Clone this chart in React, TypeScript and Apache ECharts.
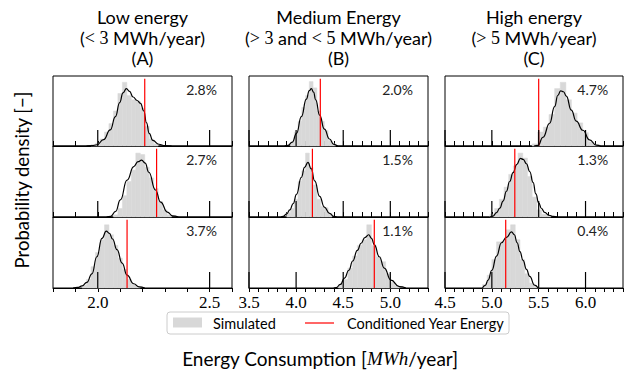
import React, { useEffect, useRef } from "react";
import * as echarts from "echarts";

// ---- data -------------------------------------------------------------

const X_MIN = [1.8, 3.5, 4.5];
const X_MAX = [2.6, 5.4, 6.4];
const Y_MAX = [10, 5, 4];
const MAJOR_TICKS_A = [2.0, 2.5];
const MAJOR_TICKS_B = [3.5, 4.0, 4.5, 5.0];
const MAJOR_TICKS_C = [4.5, 5.0, 5.5, 6.0];

// histogram: [first bin edge, bin width] and bin densities
const BINS_A1 = [1.97, 0.02];
const HIST_A1 = [0.2, 0.4, 1.0, 2.0, 3.2, 5.0, 7.5, 9.1, 7.2, 6.6, 6.4, 5.4, 2.8, 1.0, 0.3];
const BINS_A2 = [2.07, 0.02];
const HIST_A2 = [0.3, 1.2, 3.0, 5.0, 6.6, 9.0, 8.8, 7.0, 5.5, 4.0, 2.2, 1.0, 0.3];
const BINS_A3 = [1.93, 0.02];
const HIST_A3 = [0.4, 1.2, 3.0, 5.0, 6.8, 8.9, 7.5, 6.0, 4.2, 2.6, 1.2, 0.5, 0.2];
const BINS_B1 = [3.94, 0.04];
const HIST_B1 = [0.25, 1.0, 1.75, 2.75, 3.6, 4.6, 4.15, 2.5, 1.75, 1.1, 0.4, 0.15];
const BINS_B2 = [3.9, 0.04];
const HIST_B2 = [0.3, 0.6, 1.25, 2.5, 3.25, 4.5, 3.5, 2.25, 1.25, 0.75, 0.65, 0.25];
const BINS_B3 = [4.45, 0.05];
const HIST_B3 = [0.25, 0.6, 1.4, 2.25, 3.0, 3.4, 4.45, 3.0, 2.2, 1.85, 1.0, 0.4, 0.15];
const BINS_C1 = [5.43, 0.06];
const HIST_C1 = [0.12, 0.8, 1.08, 1.8, 3.28, 3.64, 2.64, 1.88, 1.32, 0.76, 0.24, 0.08];
const BINS_C2 = [4.98, 0.05];
const HIST_C2 = [0.16, 0.48, 1.0, 1.68, 2.4, 2.88, 3.6, 3.32, 2.28, 1.12, 0.4, 0.16, 0.08];
const BINS_C3 = [4.9, 0.05];
const HIST_C3 = [0.2, 0.72, 1.6, 2.6, 2.64, 3.28, 3.56, 2.72, 1.6, 0.8, 0.28, 0.08];

// kernel density estimates: [energy, density]
const KDE_A1 = [[1.95, 0], [1.975, 0.05], [1.996, 0.18], [2.026, 0.9], [2.056, 2.3], [2.079, 4.2], [2.098, 6.2], [2.113, 7.6], [2.128, 8.2], [2.142, 7.8], [2.158, 7.0], [2.176, 6.5], [2.191, 6.1], [2.206, 5.0], [2.218, 3.3], [2.23, 1.8], [2.246, 0.8], [2.273, 0.25], [2.3, 0.05], [2.33, 0]];
const KDE_A2 = [[2.04, 0], [2.058, 0.1], [2.08, 0.8], [2.101, 2.4], [2.131, 5.2], [2.161, 7.1], [2.18, 7.8], [2.196, 8.0], [2.212, 7.6], [2.228, 6.3], [2.258, 3.8], [2.281, 2.1], [2.311, 0.7], [2.335, 0.15], [2.36, 0]];
const KDE_A3 = [[1.89, 0], [1.91, 0.08], [1.93, 0.3], [1.951, 0.8], [1.974, 2.0], [1.996, 4.4], [2.019, 7.0], [2.038, 8.0], [2.052, 7.7], [2.066, 6.9], [2.086, 5.4], [2.109, 3.5], [2.131, 1.8], [2.161, 0.6], [2.185, 0.15], [2.21, 0]];
const KDE_B1 = [[3.88, 0], [3.915, 0.05], [3.96, 0.28], [4.004, 0.9], [4.056, 2.1], [4.109, 3.35], [4.14, 3.95], [4.162, 4.1], [4.185, 3.85], [4.208, 3.3], [4.25, 2.2], [4.3, 1.2], [4.355, 0.5], [4.4, 0.12], [4.44, 0]];
const KDE_B2 = [[3.84, 0], [3.862, 0.04], [3.9, 0.22], [3.933, 0.5], [3.97, 0.95], [4.004, 1.6], [4.056, 2.8], [4.09, 3.5], [4.126, 3.85], [4.16, 3.4], [4.197, 2.55], [4.25, 1.45], [4.3, 0.7], [4.355, 0.25], [4.4, 0.05], [4.43, 0]];
const KDE_B3 = [[4.4, 0], [4.426, 0.03], [4.47, 0.25], [4.514, 0.7], [4.56, 1.25], [4.601, 1.9], [4.65, 2.65], [4.69, 3.15], [4.73, 3.55], [4.771, 3.75], [4.8, 3.5], [4.83, 3.05], [4.883, 2.2], [4.936, 1.4], [5.007, 0.55], [5.095, 0.1], [5.165, 0]];
const KDE_C1 = [[5.45, 0], [5.493, 0.04], [5.546, 0.5], [5.617, 1.3], [5.67, 2.25], [5.705, 2.9], [5.734, 3.15], [5.765, 3.1], [5.795, 2.85], [5.848, 2.05], [5.901, 1.42], [5.971, 0.9], [6.043, 0.35], [6.114, 0.05], [6.16, 0]];
const KDE_C2 = [[4.98, 0], [5.014, 0.05], [5.05, 0.25], [5.085, 0.5], [5.12, 0.9], [5.156, 1.45], [5.19, 2.0], [5.227, 2.5], [5.265, 2.95], [5.305, 3.3], [5.335, 3.25], [5.369, 3.0], [5.405, 2.55], [5.44, 1.95], [5.47, 1.3], [5.5, 0.8], [5.53, 0.48], [5.564, 0.26], [5.61, 0.1], [5.652, 0.03], [5.7, 0]];
const KDE_C3 = [[4.9, 0], [4.93, 0.15], [4.96, 0.44], [5.0, 1.0], [5.05, 1.8], [5.103, 2.55], [5.156, 2.85], [5.21, 3.16], [5.24, 3.0], [5.27, 2.55], [5.3, 2.05], [5.333, 1.56], [5.37, 1.05], [5.404, 0.65], [5.457, 0.16], [5.493, 0]];

// conditioned-year energy per row
const CONDITIONED_A = [2.21, 2.263, 2.131];
const CONDITIONED_B = [4.257, 4.173, 4.83];
const CONDITIONED_C = [5.5, 5.245, 5.148];

const PERCENT_A = ["2.8%", "2.7%", "3.7%"];
const PERCENT_B = ["2.0%", "1.5%", "1.1%"];
const PERCENT_C = ["4.7%", "1.3%", "0.4%"];

const COLUMN_TITLES = ["Low energy", "Medium Energy", "High energy"];
const COLUMN_RANGES = [
  "{p|(}{m|< 3}{p| MWh/year)}",
  "{p|(}{m|> 3}{p| and }{m|< 5}{p| MWh/year)}",
  "{p|(}{m|> 5}{p| MWh/year)}",
];
const COLUMN_LETTERS = ["(A)", "(B)", "(C)"];

// ---- layout -----------------------------------------------------------

const COL_LEFT = [53, 249, 445];
const COL_WIDTH = [179, 179, 178];
const ROW_TOP = [76, 146, 217];
const ROW_HEIGHT = [70, 71, 71];

const SANS = 'Lato, "DejaVu Sans", sans-serif';
const SERIF = '"Liberation Serif", "DejaVu Serif", serif';
const HIST_COLOR = "#d8d8d8";

const BINS = [[BINS_A1, BINS_A2, BINS_A3], [BINS_B1, BINS_B2, BINS_B3], [BINS_C1, BINS_C2, BINS_C3]];
const HISTS = [[HIST_A1, HIST_A2, HIST_A3], [HIST_B1, HIST_B2, HIST_B3], [HIST_C1, HIST_C2, HIST_C3]];
const KDES = [[KDE_A1, KDE_A2, KDE_A3], [KDE_B1, KDE_B2, KDE_B3], [KDE_C1, KDE_C2, KDE_C3]];
const CONDITIONED = [CONDITIONED_A, CONDITIONED_B, CONDITIONED_C];
const PERCENTS = [PERCENT_A, PERCENT_B, PERCENT_C];
const MAJORS = [MAJOR_TICKS_A, MAJOR_TICKS_B, MAJOR_TICKS_C];

function buildOption() {
  const grid: any[] = [];
  const xAxis: any[] = [];
  const yAxis: any[] = [];
  const series: any[] = [];
  const graphic: any[] = [];

  for (let c = 0; c < 3; c++) {
    for (let r = 0; r < 3; r++) {
      const idx = grid.length;
      const yMax = Y_MAX[c];
      grid.push({
        left: COL_LEFT[c],
        top: ROW_TOP[r],
        width: COL_WIDTH[c],
        height: ROW_HEIGHT[r],
        show: true,
        borderColor: "#000",
        borderWidth: 1,
        backgroundColor: "transparent",
      });
      xAxis.push({
        gridIndex: idx,
        type: "value",
        min: X_MIN[c],
        max: X_MAX[c],
        interval: 0.1,
        axisLine: { show: true, lineStyle: { color: "#000", width: 1 } },
        axisTick: {
          show: true,
          inside: r < 2,
          length: r < 2 ? 5 : 4,
          lineStyle: { color: "#000", width: 1 },
        },
        axisLabel: {
          show: r === 2,
          margin: 6,
          color: "#000",
          fontFamily: SERIF,
          fontSize: 17,
          formatter: (v: number) =>
            Math.abs(v * 2 - Math.round(v * 2)) < 1e-6 ? v.toFixed(1) : "",
        },
        splitLine: { show: false },
      });
      yAxis.push({ gridIndex: idx, type: "value", min: 0, max: yMax, show: false });

      const [start, width] = BINS[c][r];
      const histData = HISTS[c][r].map((h, i) => [start + i * width, start + (i + 1) * width, h]);
      series.push({
        name: "Simulated",
        type: "custom",
        xAxisIndex: idx,
        yAxisIndex: idx,
        silent: true,
        z: 1,
        encode: { x: [0, 1], y: 2 },
        data: histData,
        renderItem: (_p: any, api: any) => {
          const a = api.coord([api.value(0), api.value(2)]);
          const b = api.coord([api.value(1), 0]);
          return {
            type: "rect",
            shape: { x: a[0], y: a[1], width: b[0] - a[0], height: b[1] - a[1] },
            style: { fill: HIST_COLOR, stroke: HIST_COLOR, lineWidth: 0.5 },
          };
        },
      });
      series.push({
        type: "line",
        xAxisIndex: idx,
        yAxisIndex: idx,
        silent: true,
        z: 3,
        data: KDES[c][r],
        symbol: "none",
        smooth: 0.5,
        smoothMonotone: "x",
        lineStyle: { color: "#000", width: 1.2 },
      });
      const cv = CONDITIONED[c][r];
      series.push({
        name: "Conditioned Year Energy",
        type: "line",
        xAxisIndex: idx,
        yAxisIndex: idx,
        silent: true,
        z: 4,
        data: [[cv, 0], [cv, yMax * 0.96]],
        symbol: "none",
        lineStyle: { color: "#ff0000", width: 1.2 },
      });
      series.push({
        type: "custom",
        xAxisIndex: idx,
        yAxisIndex: idx,
        silent: true,
        z: 5,
        clip: false,
        encode: { x: 0, y: 1 },
        data: MAJORS[c].map((v) => [v, 0]),
        renderItem: (_p: any, api: any) => {
          const p = api.coord([api.value(0), 0]);
          return {
            type: "line",
            shape: { x1: p[0], y1: p[1], x2: p[0], y2: p[1] - 16 },
            style: { stroke: "#000", lineWidth: 1.2 },
          };
        },
      });

      graphic.push({
        type: "text",
        x: COL_LEFT[c] + COL_WIDTH[c] * 0.83,
        y: ROW_TOP[r] + 13,
        style: {
          text: PERCENTS[c][r],
          fill: "#222",
          font: `14px ${SANS}`,
          align: "center",
          verticalAlign: "middle",
          textAlign: "center",
          textVerticalAlign: "middle",
        },
      });
    }

    const cx = COL_LEFT[c] + COL_WIDTH[c] / 2;
    const titleLines = [
      `{p|${COLUMN_TITLES[c]}}`,
      COLUMN_RANGES[c],
      `{p|${COLUMN_LETTERS[c]}}`,
    ];
    titleLines.forEach((t, i) => {
      graphic.push({
        type: "text",
        x: cx,
        y: 17 + i * 20.5,
        style: {
          text: t,
          fill: "#000",
          align: "center",
          verticalAlign: "middle",
          textAlign: "center",
          textVerticalAlign: "middle",
          rich: {
            p: { fontFamily: SANS, fontSize: 18, fill: "#000" },
            m: { fontFamily: SERIF, fontSize: 18, fill: "#000" },
          },
        },
      });
    });
  }

  // axis titles
  graphic.push({
    type: "text",
    x: 320,
    y: 358,
    style: {
      text: "{p|Energy Consumption [}{i|MWh}{p|/year]}",
      align: "center",
      verticalAlign: "middle",
      textAlign: "center",
      textVerticalAlign: "middle",
      rich: {
        p: { fontFamily: SANS, fontSize: 19, fill: "#000" },
        i: { fontFamily: SERIF, fontStyle: "italic", fontSize: 19, fill: "#000" },
      },
    },
  });
  graphic.push({
    type: "text",
    x: 22,
    y: 180,
    rotation: Math.PI / 2,
    style: {
      text: "Probability density [\u2212]",
      fill: "#000",
      font: `18.5px ${SANS}`,
      align: "center",
      verticalAlign: "middle",
      textAlign: "center",
      textVerticalAlign: "middle",
    },
  });

  // legend
  graphic.push({
    type: "rect",
    shape: { x: 167, y: 312, width: 342, height: 22, r: 3 },
    style: { fill: "rgba(255,255,255,0.85)", stroke: "#cccccc", lineWidth: 1 },
    z: 10,
  });
  graphic.push({
    type: "rect",
    shape: { x: 173, y: 317.5, width: 29, height: 10 },
    style: { fill: HIST_COLOR },
    z: 11,
  });
  graphic.push({
    type: "text",
    x: 213,
    y: 323,
    z: 11,
    style: {
      text: "Simulated",
      fill: "#000",
      font: `14.5px ${SANS}`,
      align: "left",
      verticalAlign: "middle",
      textAlign: "left",
      textVerticalAlign: "middle",
    },
  });
  graphic.push({
    type: "line",
    shape: { x1: 305, y1: 323, x2: 334, y2: 323 },
    style: { stroke: "#ff0000", lineWidth: 1.2 },
    z: 11,
  });
  graphic.push({
    type: "text",
    x: 347,
    y: 323,
    z: 11,
    style: {
      text: "Conditioned Year Energy",
      fill: "#000",
      font: `14.5px ${SANS}`,
      align: "left",
      verticalAlign: "middle",
      textAlign: "left",
      textVerticalAlign: "middle",
    },
  });

  return { animation: false, grid, xAxis, yAxis, series, graphic };
}

export default function App() {
  const ref = useRef<HTMLDivElement>(null);
  useEffect(() => {
    if (!ref.current) return;
    const chart = echarts.init(ref.current, undefined, { renderer: "svg" });
    chart.setOption(buildOption());
    return () => chart.dispose();
  }, []);
  return (
    <div
      ref={ref}
      style={{ position: "absolute", left: 0, top: 0, width: 635, height: 373, background: "#fff" }}
    />
  );
}
